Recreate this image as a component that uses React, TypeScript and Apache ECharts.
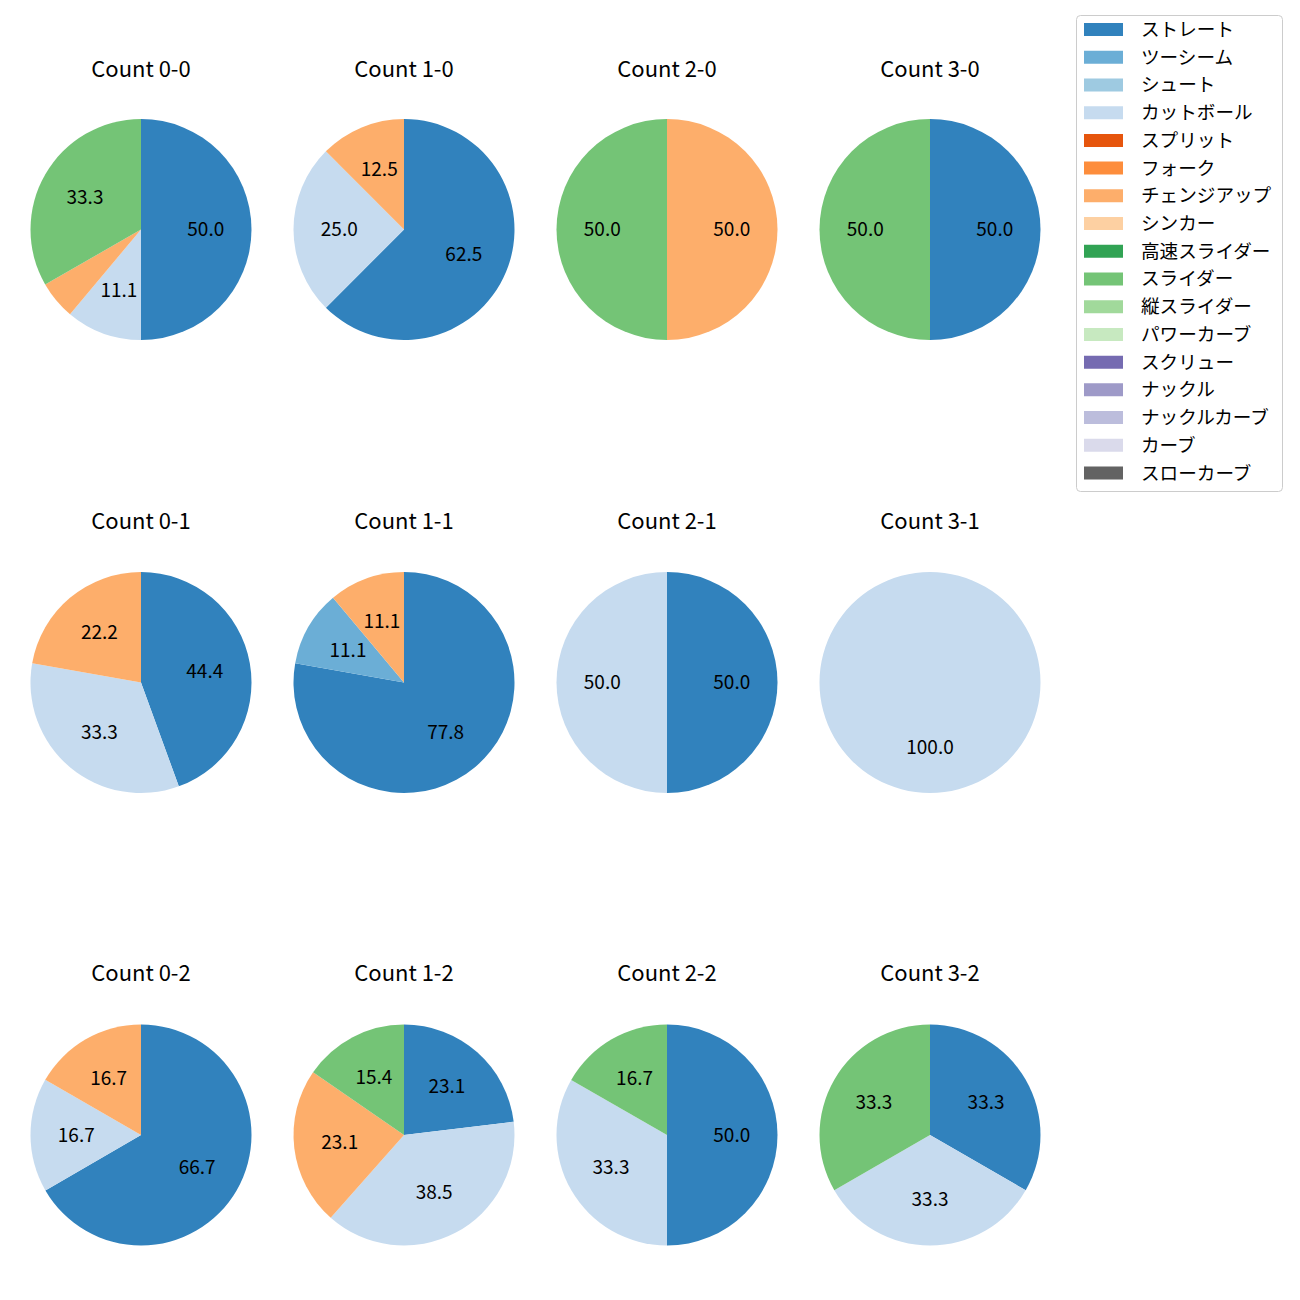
import React, { useEffect, useRef } from "react";
import * as echarts from "echarts";

const pitchTypes = [
  "ストレート", "ツーシーム", "シュート", "カットボール", "スプリット", "フォーク",
  "チェンジアップ", "シンカー", "高速スライダー", "スライダー", "縦スライダー",
  "パワーカーブ", "スクリュー", "ナックル", "ナックルカーブ", "カーブ", "スローカーブ",
];
const pitchColors = [
  "#3182bd", "#6baed6", "#9ecae1", "#c6dbef", "#e6550d", "#fd8d3c",
  "#fdae6b", "#fdd0a2", "#31a354", "#74c476", "#a1d99b",
  "#c7e9c0", "#756bb1", "#9e9ac8", "#bcbddc", "#dadaeb", "#636363",
];

const countTitles = [
  "Count 0-0", "Count 1-0", "Count 2-0", "Count 3-0",
  "Count 0-1", "Count 1-1", "Count 2-1", "Count 3-1",
  "Count 0-2", "Count 1-2", "Count 2-2", "Count 3-2",
];

// per-count pitch names and percentages (clockwise from top)
const countPitches: string[][] = [
  ["ストレート", "カットボール", "チェンジアップ", "スライダー"],
  ["ストレート", "カットボール", "チェンジアップ"],
  ["チェンジアップ", "スライダー"],
  ["ストレート", "スライダー"],
  ["ストレート", "カットボール", "チェンジアップ"],
  ["ストレート", "ツーシーム", "チェンジアップ"],
  ["ストレート", "カットボール"],
  ["カットボール"],
  ["ストレート", "カットボール", "チェンジアップ"],
  ["ストレート", "カットボール", "チェンジアップ", "スライダー"],
  ["ストレート", "カットボール", "スライダー"],
  ["ストレート", "カットボール", "スライダー"],
];
const countValues: number[][] = [
  [50.0, 11.1, 5.6, 33.3],
  [62.5, 25.0, 12.5],
  [50.0, 50.0],
  [50.0, 50.0],
  [44.4, 33.3, 22.2],
  [77.8, 11.1, 11.1],
  [50.0, 50.0],
  [100.0],
  [66.7, 16.7, 16.7],
  [23.1, 38.5, 23.1, 15.4],
  [50.0, 33.3, 16.7],
  [33.3, 33.3, 33.3],
];

const colCenters = [141, 404, 667, 930];
const rowCenters = [229.5, 682.5, 1135];
const titleYs = [69, 521, 973];
const RADIUS = 110.5;
const FONT = '"Noto Sans CJK JP", "DejaVu Sans", sans-serif';

export default function App() {
  const ref = useRef<HTMLDivElement>(null);
  useEffect(() => {
    if (!ref.current) return;
    const chart = echarts.init(ref.current, undefined, { renderer: "svg" });
    const colorOf = (n: string) => pitchColors[pitchTypes.indexOf(n)];
    const series: any[] = [];
    const titles: any[] = [];
    countTitles.forEach((t, i) => {
      const cx = colCenters[i % 4];
      const cy = rowCenters[Math.floor(i / 4)];
      const ty = titleYs[Math.floor(i / 4)];
      titles.push({
        text: t,
        left: cx,
        top: ty - 13,
        textAlign: "center",
        padding: 0,
        textStyle: { fontFamily: FONT, fontSize: 22, fontWeight: "normal", color: "#000" },
      });
      const names = countPitches[i];
      const vals = countValues[i];
      series.push({
        type: "pie",
        center: [cx, cy],
        radius: [0, RADIUS],
        startAngle: 90,
        clockwise: true,
        silent: true,
        label: { show: false },
        labelLine: { show: false },
        data: names.map((n, k) => ({ name: n, value: vals[k], itemStyle: { color: colorOf(n) } })),
      });
      series.push({
        type: "pie",
        center: [cx, cy],
        radius: [13, RADIUS],
        startAngle: 90,
        clockwise: true,
        silent: true,
        z: 5,
        itemStyle: { color: "rgba(0,0,0,0)" },
        label: {
          show: true,
          position: "inside",
          fontFamily: FONT,
          fontSize: 19,
          color: "#000",
          offset: [0, -2],
          formatter: (p: any) => (p.value >= 10 ? p.value.toFixed(1) : ""),
        },
        labelLine: { show: false },
        data: names.map((n, k) => ({ name: n, value: vals[k] })),
      });
    });

    const legendItems: any[] = [];
    const legX = 1076.5, legY = 15.5, legW = 206, legH = 476;
    legendItems.push({
      type: "rect",
      shape: { x: legX, y: legY, width: legW, height: legH, r: 4 },
      style: { fill: "rgba(255,255,255,0.8)", stroke: "#cccccc", lineWidth: 1 },
      silent: true,
    });
    pitchTypes.forEach((n, k) => {
      const yc = 29.5 + k * 27.72;
      legendItems.push({
        type: "rect",
        shape: { x: 1084, y: yc - 6.5, width: 39, height: 13 },
        style: { fill: pitchColors[k] },
        silent: true,
      });
      legendItems.push({
        type: "text",
        x: 1141,
        y: yc - 2,
        style: {
          text: n,
          fontFamily: FONT,
          fontSize: 18.6,
          fill: "#000",
          textAlign: "left",
          textVerticalAlign: "middle",
        },
        silent: true,
      });
    });

    chart.setOption({
      animation: false,
      backgroundColor: "#fff",
      title: titles,
      series,
      graphic: legendItems,
    });
    return () => chart.dispose();
  }, []);
  return (
    <div
      ref={ref}
      style={{ position: "absolute", left: 0, top: 0, width: 1300, height: 1300 }}
    />
  );
}
